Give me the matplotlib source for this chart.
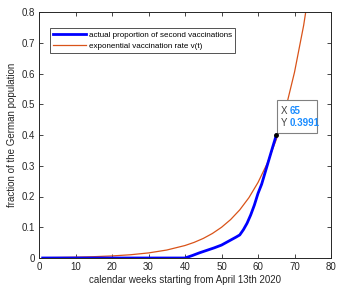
import matplotlib
matplotlib.use("Agg")
import matplotlib.pyplot as plt
from matplotlib.patches import Rectangle

plt.rcParams['font.family'] = ['Liberation Sans', 'DejaVu Sans']

# actual proportion of second vaccinations (week, fraction)
blue_weeks = [1, 10, 20, 30, 40, 42, 44, 46, 48, 50, 52, 54, 55, 56, 57, 58, 59, 60, 61, 62, 63, 64, 65]
blue_vals = [0, 0, 0, 0, 0, 0.008, 0.017, 0.025, 0.033, 0.042, 0.055, 0.068, 0.075, 0.092, 0.113,
             0.14, 0.172, 0.21, 0.24, 0.28, 0.32, 0.36, 0.3991]

# exponential vaccination rate v(t)
orange_weeks = [1, 5, 10, 15, 20, 25, 30, 35, 40, 42.5, 45, 47.5, 50, 52.5, 55, 57.5, 60, 62.5,
                65, 67.5, 70, 72.5, 75]
orange_vals = [0.0012, 0.0017, 0.0027, 0.0043, 0.0067, 0.0105, 0.0165, 0.0259, 0.0406, 0.0508,
               0.0636, 0.0797, 0.0998, 0.125, 0.1565, 0.196, 0.2455, 0.307, 0.385, 0.482, 0.604,
               0.756, 0.947]

xticks = [0, 10, 20, 30, 40, 50, 60, 70, 80]
yticks = [0, 0.1, 0.2, 0.3, 0.4, 0.5, 0.6, 0.7, 0.8]
tip_x, tip_y = 65, 0.3991

fig = plt.figure(figsize=(3.42, 2.91), dpi=100)
ax = fig.add_axes([39/342, 1 - 258/291, (331-39)/342, (258-12)/291])

ax.plot(blue_weeks, blue_vals, color='#0000ff', lw=2.0, label='actual proportion of second vaccinations', zorder=3)
ax.plot(orange_weeks, orange_vals, color='#D95319', lw=0.9, label='exponential vaccination rate v(t)', zorder=2)

ax.set_xlim(0, 80)
ax.set_ylim(0, 0.8)
ax.set_xticks(xticks)
ax.set_yticks(yticks)
ax.set_xticklabels([str(t) for t in xticks])
ax.set_yticklabels(['0' if v == 0 else f'{v:.1f}' for v in yticks])
ax.tick_params(direction='in', length=3, width=0.6, top=True, right=True, labelsize=7,
               colors='#262626', pad=3)
for s in ax.spines.values():
    s.set_linewidth(0.7)
    s.set_color('#262626')

ax.set_xlabel('calendar weeks starting from April 13th 2020', fontsize=7, color='#262626', labelpad=2)
ax.set_ylabel('fraction of the German population', fontsize=7, color='#262626', labelpad=3)

leg = ax.legend(loc='upper left', bbox_to_anchor=(0.038, 0.935), fontsize=5.8, frameon=True,
                fancybox=False, edgecolor='#262626', handlelength=4.0, borderpad=0.4,
                labelspacing=0.45, handletextpad=0.4, borderaxespad=0)
leg.get_frame().set_linewidth(0.7)

# data tip
ax.plot([tip_x], [tip_y], 'o', color='black', ms=2.5, zorder=5)
ax.add_patch(Rectangle((65.1, 0.405), 11.1, 0.108, facecolor='white', edgecolor='#808080',
                       lw=0.8, zorder=4, clip_on=False))
ax.text(66.3, 0.478, 'X', fontsize=7, color='#404040', va='center', ha='left', zorder=6)
ax.text(68.6, 0.478, f'{tip_x}', fontsize=7, color='#1a8cff', fontweight='bold', va='center', ha='left', zorder=6)
ax.text(66.3, 0.439, 'Y', fontsize=7, color='#404040', va='center', ha='left', zorder=6)
ax.text(68.6, 0.439, f'{tip_y}', fontsize=7, color='#1a8cff', fontweight='bold', va='center', ha='left', zorder=6)

fig.savefig('out.png', dpi=100)
